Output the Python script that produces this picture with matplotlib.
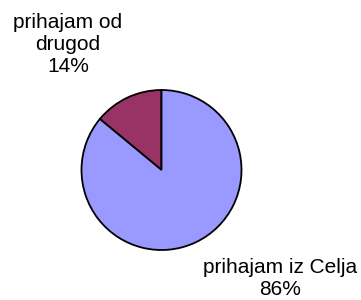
import matplotlib.pyplot as plt

labels = ["prihajam od\ndrugod", "prihajam iz Celja"]
shares = [14, 86]
colors = ["#993366", "#9999FF"]

plt.rcParams['font.family'] = ['Liberation Sans', 'DejaVu Sans']

fig = plt.figure(figsize=(3.61, 3.0), dpi=100)
ax = fig.add_axes([0, 0, 1, 1])
ax.set_aspect('equal')
ax.axis('off')

ax.pie(shares, colors=colors, startangle=90, counterclock=True,
       center=(161.5, 130), radius=80,
       wedgeprops=dict(edgecolor='black', linewidth=1.3))
ax.set_xlim(0, 361)
ax.set_ylim(0, 300)

# data labels
ax.text(68, 256, "%s\n%d%%" % (labels[0], shares[0]), ha='center', va='center',
        fontsize=15, linespacing=1.2)
ax.text(280, 21.5, "%s\n%d%%" % (labels[1], shares[1]), ha='center', va='center',
        fontsize=15, linespacing=1.2)

plt.savefig("out.png", dpi=100)
